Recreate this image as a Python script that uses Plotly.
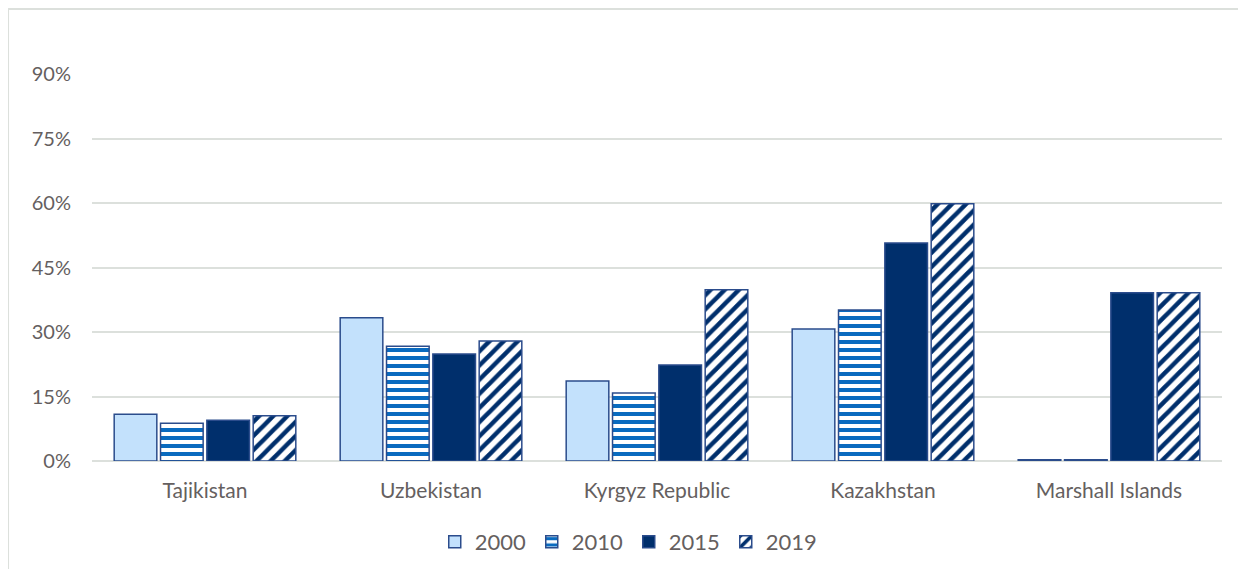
import plotly.graph_objects as go

categories = ["Tajikistan", "Uzbekistan", "Kyrgyz Republic", "Kazakhstan", "Marshall Islands"]
v2000 = [0.109, 0.333, 0.186, 0.307, 0.003]
v2010 = [0.088, 0.267, 0.158, 0.351, 0.003]
v2015 = [0.095, 0.249, 0.223, 0.507, 0.391]
v2019 = [0.105, 0.279, 0.398, 0.598, 0.391]
tick_vals = [0, 0.15, 0.30, 0.45, 0.60, 0.75, 0.90]
tick_text = ["0%", "15%", "30%", "45%", "60%", "75%", "90%"]

NAVY = "#002F6C"
EDGE = "#2B4C8C"
TXT = "#655F5F"
FONT = "Lato"

fig = go.Figure()
fig.add_bar(name="2000", x=categories, y=v2000,
            marker=dict(color="#C3E1FC", line=dict(color=EDGE, width=1.5)))
fig.add_bar(name="2010", x=categories, y=v2010,
            marker=dict(color="white", line=dict(color=EDGE, width=1.5),
                        pattern=dict(shape="-", fgcolor="#0A6BBF", bgcolor="white",
                                     size=8, solidity=0.5, fillmode="replace")))
fig.add_bar(name="2015", x=categories, y=v2015,
            marker=dict(color=NAVY, line=dict(color=EDGE, width=1.5)))
fig.add_bar(name="2019", x=categories, y=v2019,
            marker=dict(color="white", line=dict(color=EDGE, width=1.5),
                        pattern=dict(shape="/", fgcolor=NAVY, bgcolor="white",
                                     size=10, solidity=0.45, fillmode="replace")))

fig.update_layout(
    width=1230, height=561,
    margin=dict(l=84, r=16, t=66, b=108, autoexpand=False),
    paper_bgcolor="white", plot_bgcolor="white",
    barmode="group", bargap=0.18, bargroupgap=0.08,
    font=dict(family=FONT, color=TXT, size=21),
    showlegend=True,
    legend=dict(orientation="h", x=0.475, xanchor="center", y=-0.155, yanchor="top",
                font=dict(size=22, color=TXT), entrywidth=52, traceorder="normal"),
    xaxis=dict(showgrid=False, showline=False, ticks="", ticklabelstandoff=15,
               tickfont=dict(size=21, color=TXT)),
    yaxis=dict(range=[0, 0.9], tickvals=tick_vals, ticktext=tick_text,
               showgrid=True, gridcolor="#DCE0DC", gridwidth=1.5,
               zeroline=True, zerolinecolor="#DCE0DC", zerolinewidth=1.5,
               showline=False, ticks="", ticklabelstandoff=20,
               tickfont=dict(size=20, color=TXT)),
    shapes=[
        dict(type="line", xref="paper", yref="paper", x0=-0.0743, x1=1.03, y0=1.168, y1=1.168,
             line=dict(color="#DCE0DC", width=2)),
        dict(type="line", xref="paper", yref="paper", x0=-0.0743, x1=-0.0743, y0=1.168, y1=-0.28,
             line=dict(color="#DCE0DC", width=2)),
    ],
)

fig.write_html("out.html")
